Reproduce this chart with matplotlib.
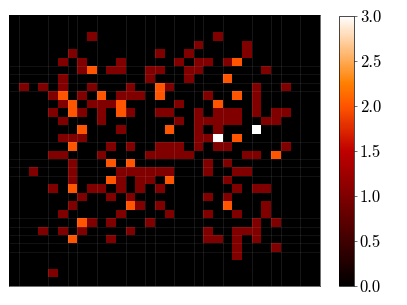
import numpy as np
import matplotlib
matplotlib.use("Agg")
import matplotlib.pyplot as plt

plt.rcParams['font.family'] = ['cmr10', 'DejaVu Serif']
plt.rcParams['axes.formatter.use_mathtext'] = True

n_cells = 32
color_max = 3.0
cbar_ticks = [0.0, 0.5, 1.0, 1.5, 2.0, 2.5, 3.0]
cbar_labels = ['0.0', '0.5', '1.0', '1.5', '2.0', '2.5', '3.0']

# row -> columns holding the value
ones = {
    2: [8, 21], 3: [19, 24], 4: [6, 15, 18, 24], 5: [5, 7, 11, 17, 19, 20, 22],
    6: [7, 10, 11, 14, 15, 18, 19, 26], 7: [5, 14, 18],
    8: [1, 3, 5, 8, 12, 16, 25, 28], 9: [4, 7, 11, 12, 13, 20, 25],
    10: [5, 8, 9, 10, 17, 25], 11: [4, 7, 9, 12, 15, 16, 19, 21, 22, 23, 25, 27, 28],
    12: [5, 9, 17, 19, 20, 21, 22, 23, 26, 27], 13: [11, 19, 21],
    14: [5, 6, 7, 19, 20], 15: [10, 12, 15, 16, 17, 19, 21, 22, 28],
    16: [4, 5, 9, 14, 15, 16, 17, 18, 24, 25], 17: [6, 20, 22],
    18: [2, 6, 11, 12, 13, 14, 15, 16, 20, 23, 24], 19: [6, 11, 13, 14, 22],
    20: [4, 8, 9, 11, 13, 15, 23, 25, 26], 21: [7, 10, 12, 20, 22],
    22: [6, 13, 15, 26], 23: [5, 11, 16, 20, 23, 26], 24: [8, 10, 14, 25, 27],
    25: [3, 5, 7, 12, 20, 23, 24, 25], 26: [10, 20, 21, 23, 25], 27: [23, 27],
    28: [23], 30: [4],
}
twos = {
    6: [8], 5: [23], 7: [22], 8: [15], 9: [5, 9, 15, 23], 10: [6, 11, 21], 11: [6, 11],
    13: [7, 16], 14: [23], 15: [6], 16: [27], 17: [10, 12], 19: [10, 16],
    20: [6], 22: [12, 22], 24: [7], 26: [6],
}
threes = {13: [25], 14: [21]}

# cell boundaries that show as faint seams in the mesh
seam_cols = [1, 4, 6, 7, 9, 12, 14, 15, 17, 19, 20, 22, 25, 27, 28, 30]
seam_rows = [6, 7, 8, 9, 15, 17, 18, 19, 24, 25, 26, 27, 28]

grid = np.zeros((n_cells, n_cells))
for value, cells in ((1, ones), (2, twos), (3, threes)):
    for row, cols in cells.items():
        grid[row, cols] = value

W, H = 407, 305
fig = plt.figure(figsize=(W / 100, H / 100), dpi=100)
ax = fig.add_axes([9.4 / W, 1 - 285.7 / H, 310.2 / W, 270.4 / H])
mesh = ax.pcolormesh(grid, cmap='gist_heat', vmin=0, vmax=color_max, antialiased=True)
ax.vlines(seam_cols, 0, n_cells, color='white', alpha=0.09, linewidth=0.72)
ax.hlines(seam_rows, 0, n_cells, color='white', alpha=0.07, linewidth=0.72)
ax.set_xlim(0, n_cells)
ax.set_ylim(n_cells, 0)
ax.set_xticks([])
ax.set_yticks([])
for s in ax.spines.values():
    s.set_linewidth(0.4)

cax = fig.add_axes([339.4 / W, 1 - 286 / H, 14.2 / W, 270.4 / H])
cb = fig.colorbar(mesh, cax=cax)
cb.set_ticks(cbar_ticks)
cb.set_ticklabels(cbar_labels)
cb.ax.tick_params(length=2.0, width=0.4, labelsize=12, pad=2.5)
cb.outline.set_linewidth(0.5)

fig.savefig('out.png', dpi=100)
